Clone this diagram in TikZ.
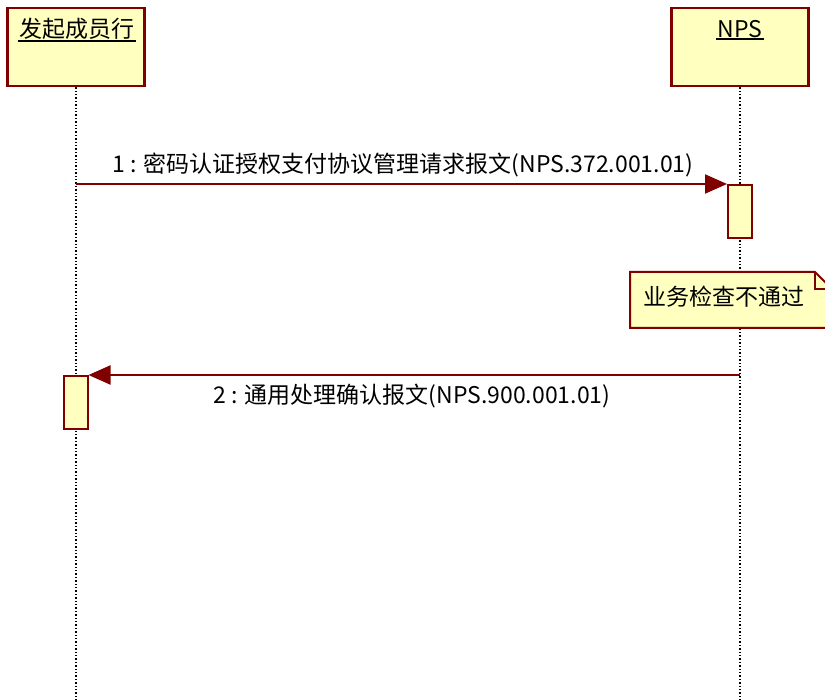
\documentclass[tikz,border=0pt]{standalone}
\usepackage{fontspec}
\setmainfont{Noto Sans CJK SC}
\usetikzlibrary{arrows.meta,positioning,calc}
\definecolor{darkred}{HTML}{800000}
\definecolor{paleyellow}{HTML}{FFFFC0}

\begin{document}
\begin{tikzpicture}[
  x=1pt,y=-1pt,
  font=\fontsize{23}{28}\selectfont,
  actor/.style={rectangle,draw=darkred,fill=paleyellow,line width=2.5pt,
                minimum width=137pt,minimum height=78pt},
  actname/.style={inner sep=1pt},
  act/.style={rectangle,draw=darkred,fill=paleyellow,line width=2pt,
              minimum width=24pt,minimum height=53pt,inner sep=0pt},
  life/.style={dotted,line width=1.4pt},
  msg/.style={-{Triangle[length=22pt,width=19pt]},line width=2.2pt,draw=darkred},
  notebox/.style={draw=darkred,fill=paleyellow,line width=2pt}
]
  \clip (0,0) rectangle (825,700);
  \fill[white] (0,0) rectangle (825,700);

  % participants
  \node[actor] (sender) at (76,47) {};
  \node[actor] (nps)    at (740,47) {};
  \node[actname] (sendername) at (77,29) {发起成员行};
  \node[actname] (npsname)    at (740,29) {NPS};
  \draw[line width=2pt] (sendername.south west) -- (sendername.south east);
  \draw[line width=2pt] (npsname.south west) -- (npsname.south east);

  % lifelines
  \coordinate (senderend) at (76,700);
  \coordinate (npsend)    at (740,700);
  \draw[life] (sender.south) -- (senderend);
  \draw[life] (nps.south) -- (npsend);

  % message 1
  \coordinate (m1) at (76,184);
  \node[act,anchor=north] (npsact) at (740,184) {};
  \draw[msg] (m1) -- (npsact.north west);
  \node (msg1label) at (403,165) {1 : 密码认证授权支付协议管理请求报文(NPS.372.001.01)};

  % note
  \draw[notebox] (630,272) -- (815,272) -- (835,292) -- (835,328) -- (630,328) -- cycle;
  \draw[darkred,line width=2pt] (815,272) -- (815,289) -- (834,289);
  \node (checknote) at (724,297) {业务检查不通过};

  % message 2
  \coordinate (m2) at (740,375);
  \node[act,anchor=north] (senderact) at (75.5,375) {};
  \draw[msg] (m2) -- (senderact.north east);
  \node (msg2label) at (412,396) {2 : 通用处理确认报文(NPS.900.001.01)};
\end{tikzpicture}
\end{document}
